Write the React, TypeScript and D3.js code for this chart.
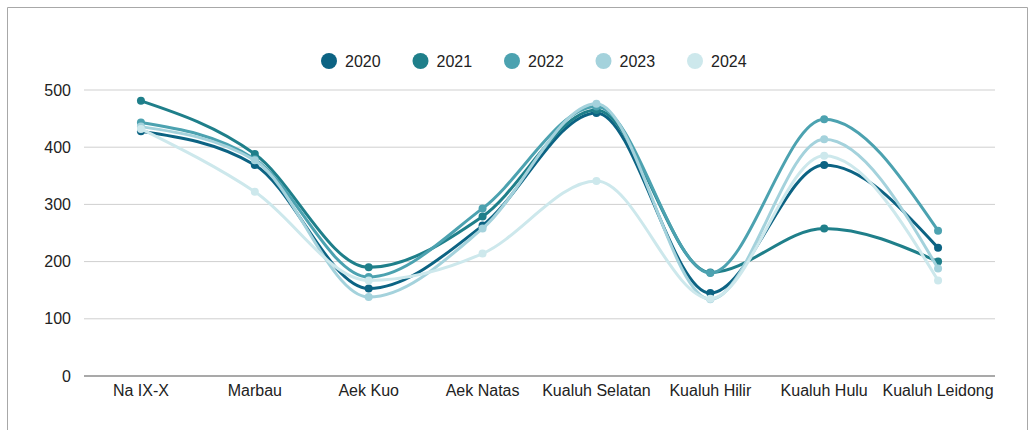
import React from "react";
import * as d3 from "d3";

const categories = ["Na IX-X", "Marbau", "Aek Kuo", "Aek Natas", "Kualuh Selatan", "Kualuh Hilir", "Kualuh Hulu", "Kualuh Leidong"];
const years = ["2020", "2021", "2022", "2023", "2024"];
const v2020 = [428, 369, 153, 263, 460, 145, 369, 224];
const v2021 = [481, 388, 190, 279, 465, 181, 258, 200];
const v2022 = [443, 379, 173, 293, 471, 180, 449, 254];
const v2023 = [436, 377, 138, 258, 476, 134, 414, 188];
const v2024 = [432, 322, 167, 214, 341, 135, 385, 167];
const seriesValues = [v2020, v2021, v2022, v2023, v2024];
const colors = ["#0c6383", "#1f7f8a", "#4ca2b0", "#a4d2dc", "#cde8ec"];
const yTicks = [0, 100, 200, 300, 400, 500];

export default function App() {
  const W = 1030, H = 430;
  const left = 84, right = 995, top = 90, bottom = 376;
  const x = d3.scaleBand<string>().domain(categories).range([left, right]);
  const y = d3.scaleLinear().domain([0, 500]).range([bottom, top]);
  const line = d3
    .line<number>()
    .x((_, i) => (x(categories[i]) as number) + x.bandwidth() / 2)
    .y((d) => y(d))
    .curve(d3.curveMonotoneX);
  const font = "'Liberation Sans', Arial, sans-serif";
  const legendX0 = 329, legendStep = 91.5, legendY = 61;
  return (
    <svg width={W} height={H} style={{ position: "absolute", left: 0, top: 0 }} fontFamily={font}>
      <rect x={0} y={0} width={W} height={H} fill="#fff" />
      <path d={`M7.5,${H + 5} V7.5 H1027.5 V${H + 5}`} fill="none" stroke="#a8a8a8" strokeWidth={1} />
      {yTicks.map((t) => (
        <g key={t}>
          <line x1={left} x2={right} y1={y(t)} y2={y(t)} stroke={t === 0 ? "#8c8c8c" : "#cfcfcf"} strokeWidth={t === 0 ? 1.3 : 1} />
          <text x={71} y={y(t)} dy="0.35em" textAnchor="end" fontSize={16} fill="#222">{t}</text>
        </g>
      ))}
      {categories.map((c) => (
        <text key={c} x={(x(c) as number) + x.bandwidth() / 2} y={396} textAnchor="middle" fontSize={16} fill="#222">{c}</text>
      ))}
      {seriesValues.map((vals, si) => (
        <g key={years[si]}>
          <path d={line(vals) || ""} fill="none" stroke={colors[si]} strokeWidth={3} />
          {vals.map((v, i) => (
            <circle key={i} cx={(x(categories[i]) as number) + x.bandwidth() / 2} cy={y(v)} r={4} fill={colors[si]} />
          ))}
        </g>
      ))}
      {years.map((yr, i) => (
        <g key={yr} transform={`translate(${legendX0 + i * legendStep},${legendY})`}>
          <circle cx={0} cy={0} r={8} fill={colors[i]} />
          <text x={16} y={0} dy="0.35em" fontSize={16} fill="#222">{yr}</text>
        </g>
      ))}
    </svg>
  );
}
